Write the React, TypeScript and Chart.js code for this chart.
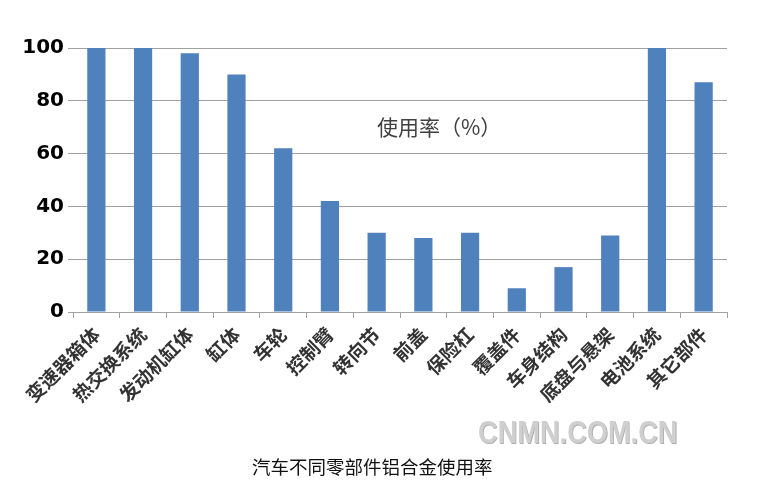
import React, { useEffect, useRef } from "react";
import { Chart, registerables } from "chart.js";

Chart.register(...registerables);

const categories = [
  "变速器箱体", "热交换系统", "发动机缸体", "缸体", "车轮", "控制臂", "转向节",
  "前盖", "保险杠", "覆盖件", "车身结构", "底盘与悬架", "电池系统", "其它部件",
];
const usageRate = [100, 100, 98, 90, 62, 42, 30, 28, 30, 9, 17, 29, 100, 87];
const yTicks = [0, 20, 40, 60, 80, 100];

const seriesLabel = "使用率（%）";
const caption = "汽车不同零部件铝合金使用率";
const watermark = "CNMN.COM.CN";

export default function App() {
  const canvasRef = useRef<HTMLCanvasElement | null>(null);

  useEffect(() => {
    const canvas = canvasRef.current;
    if (!canvas) return;
    const chart = new Chart(canvas, {
      type: "bar",
      data: {
        labels: categories,
        datasets: [
          {
            label: seriesLabel,
            data: usageRate,
            backgroundColor: "#4f81bd",
            borderWidth: 0,
            categoryPercentage: 1,
            barPercentage: 0.39,
          },
        ],
      },
      options: {
        responsive: false,
        animation: false,
        maintainAspectRatio: false,
        layout: { padding: { top: 48, right: 44, bottom: 0, left: 0 } },
        plugins: {
          legend: { display: false },
          title: { display: false },
          tooltip: { enabled: false },
        },
        scales: {
          x: {
            offset: true,
            grid: {
              offset: true,
              drawOnChartArea: false,
              drawTicks: true,
              tickLength: 6,
              color: "#a0a0a0",
              lineWidth: 1,
            },
            border: { display: true, color: "#a0a0a0", width: 1 },
            ticks: {
              autoSkip: false,
              maxRotation: 45,
              minRotation: 45,
              padding: 5,
              color: "#333",
              font: { family: "'Noto Sans CJK SC', sans-serif", size: 19, weight: "bold" },
            },
            afterFit: (s: any) => {
              s.height = 171;
            },
          },
          y: {
            min: 0,
            max: 100,
            afterBuildTicks: (s: any) => {
              s.ticks = yTicks.map((v) => ({ value: v }));
            },
            grid: {
              drawTicks: true,
              tickLength: 5,
              color: "#a0a0a0",
              lineWidth: 1,
            },
            border: { display: false },
            ticks: {
              padding: 4,
              color: "#000",
              font: { family: "'DejaVu Sans', sans-serif", size: 20, weight: "bold" },
            },
            afterFit: (s: any) => {
              s.width = 73;
            },
          },
        },
      },
    });
    return () => chart.destroy();
  }, []);

  return (
    <div style={{ position: "absolute", left: 0, top: 0, width: 771, height: 483, background: "#fff" }}>
      <canvas ref={canvasRef} width={771} height={483} style={{ position: "absolute", left: 0, top: 0 }} />
      <div
        style={{
          position: "absolute",
          left: 377,
          top: 116,
          fontFamily: "'Noto Sans CJK SC', sans-serif",
          fontSize: 21,
          lineHeight: "21px",
          color: "#404040",
          whiteSpace: "nowrap",
        }}
      >
        {seriesLabel}
      </div>
      <div
        style={{
          position: "absolute",
          left: 478,
          top: 416,
          fontFamily: "'Liberation Sans', Arial, sans-serif",
          fontWeight: "bold",
          fontSize: 32,
          lineHeight: "32px",
          color: "#cfcfcf",
          textShadow: "1px 1px 0px #b0b0b0",
          whiteSpace: "nowrap",
          transform: "scaleX(0.85)",
          transformOrigin: "left top",
        }}
      >
        {watermark}
      </div>
      <div
        style={{
          position: "absolute",
          left: 252,
          top: 457,
          fontFamily: "'Noto Sans CJK SC', serif",
          fontSize: 18.5,
          lineHeight: "19px",
          color: "#111",
          whiteSpace: "nowrap",
        }}
      >
        {caption}
      </div>
    </div>
  );
}
